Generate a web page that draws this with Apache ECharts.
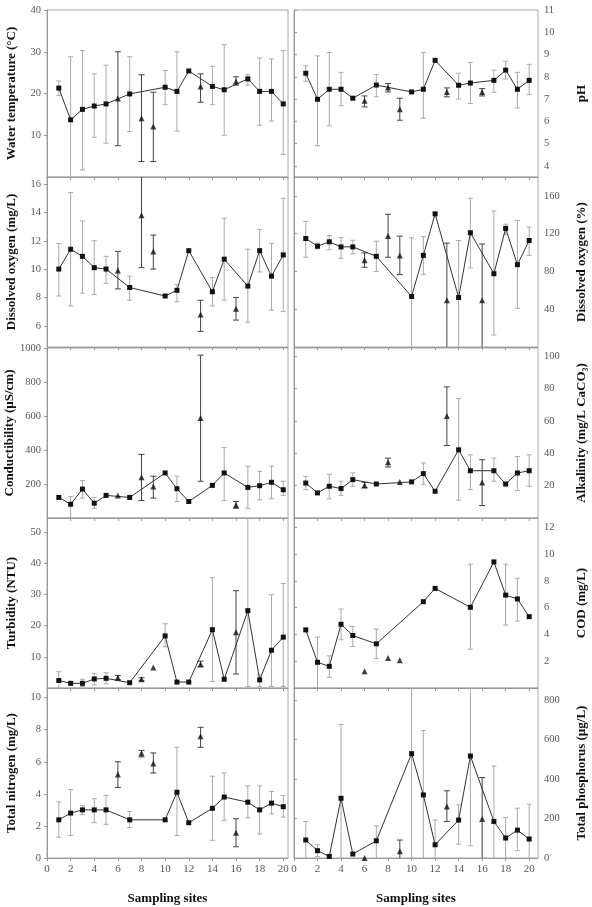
<!DOCTYPE html>
<html>
<head>
<meta charset="utf-8">
<script src="https://cdn.jsdelivr.net/npm/echarts@6/dist/echarts.min.js"></script>
<style>
  html, body { margin: 0; padding: 0; background: #fff; }
  #chart { width: 592px; height: 907px; }
</style>
</head>
<body>
<div id="chart"></div>
<script>
// sites joined by the line, and the sites drawn as triangles
var lineSites = [1, 2, 3, 4, 5, 7, 10, 11, 12, 14, 15, 17, 18, 19, 20];
var triSites = [6, 8, 9, 13, 16];
var siteTicks = [0, 2, 4, 6, 8, 10, 12, 14, 16, 18, 20];

// values per site 1..20 (null = no value / no error bar)
var tempMean = [21.3, 13.7, 16.2, 17.0, 17.5, 18.8, 19.9, 14.1, 12.1, 21.5, 20.5, 25.4, 21.7, 21.7, 20.9, 22.9, 23.5, 20.5, 20.5, 17.5];
var tempLow  = [19.5, 0, 1.7, 9.5, 8.1, 7.5, 10.9, 3.7, 3.7, 17.3, 11, null, 17.9, 17.3, 10, 22, 22, 12.4, 13.4, 5.4];
var tempHigh = [23, 28.8, 30.3, 24.7, 26.8, 30, 28.8, 24.5, 20.3, 25.5, 30, null, 24.7, 26.5, 31.7, 24, 24.5, 28.5, 28.3, 30.3];
var tempTicks = [10, 20, 30, 40];

var phMean = [8.16, 6.99, 7.44, 7.44, 7.04, 6.92, 7.63, 7.52, 6.54, 7.32, 7.44, 8.74, 7.32, 7.62, 7.72, 7.32, 7.84, 8.3, 7.44, 7.84];
var phLow  = [7.8, 4.9, 5.8, 6.7, null, 6.65, 7.1, 7.32, 6.05, null, 6.14, null, 7.1, 7.0, 6.8, 7.14, 7.3, 7.9, 6.6, 7.2];
var phHigh = [8.49, 8.94, 9.09, 8.2, null, 7.14, 8.1, 7.7, 7.04, null, 9.1, null, 7.5, 8.16, 8.64, 7.47, 8.3, 8.7, 8.2, 8.56];
var phTicks = [4, 5, 6, 7, 8, 9, 10, 11];

var doMean = [10.0, 11.4, 10.9, 10.1, 10.0, 9.9, 8.7, 13.8, 11.25, 8.1, 8.5, 11.3, 6.8, 8.4, 10.7, 7.2, 8.8, 11.3, 9.5, 11.0];
var doLow  = [8.1, 7.4, 8.3, 8.2, 9.0, 8.6, 7.8, 10.1, 10.0, null, 7.7, null, 5.6, 7.4, 7.8, 6.4, 6.25, 9.8, 7.1, 7.0];
var doHigh = [11.8, 15.4, 13.4, 12.0, 10.9, 11.25, 9.5, 16.6, 12.4, null, 8.9, null, 7.8, 9.4, 13.6, 8.0, 11.4, 12.8, 11.8, 15.0];
var doTicks = [6, 8, 10, 12, 14, 16];

var doPctMean = [114.9, 106.7, 111.4, 106, 106, 91.8, 96, 117.4, 97, 53.5, 97, 141, 49.6, 52.4, 121, 49.6, 77.6, 125.6, 87.2, 112.8];
var doPctLow  = [95, 104, 103, 94, 98.6, 84.4, 80, 95, 76.6, 0, 77, null, 0, 0, 83.7, 0, 12.7, 119, 41, 97];
var doPctHigh = [133, 110, 118, 116, 113, 99.6, 112, 140.5, 117.4, 115.6, 117, null, 110, 112.8, 157.5, 109, 144, 130, 134, 127];
var doPctTicks = [40, 80, 120, 160];

var condMean = [121, 81, 170, 87, 133, 133, 121, 240, 186, 265, 172, 97, 588, 192, 265, 77, 180, 190, 210, 166];
var condLow  = [null, 2, 117, 57, null, null, null, 103, 117, null, 97, null, 216, null, 103, 57, 57, 107, 113, 133];
var condHigh = [null, 127, 220, 121, null, null, null, 374, 246, null, 246, null, 958, null, 414, 97, 305, 275, 305, 216];
var condTicks = [200, 400, 600, 800, 1000];

var alkMean = [21.6, 15.5, 19.6, 18.2, 23.7, 20.2, 21, 34.5, 22.3, 22.3, 27.4, 16.5, 63, 42.1, 29.2, 22, 29.2, 21, 27.8, 29.2];
var alkLow  = [17.5, null, 11.8, 14, 19.6, 18.6, null, 31.5, null, null, 20.8, null, 44.8, 11, 17.5, 7.7, 22.7, null, 17, 19.6];
var alkHigh = [25.7, null, 27, 22.7, 27.8, 22, null, 37, null, null, 34, null, 81, 73.8, 39, 36, 37, null, 38, 39];
var alkTicks = [20, 40, 60, 80, 100];

var turbMean = [2.4, 1.5, 1.5, 2.9, 3.1, 3.3, 1.7, 2.8, 6.6, 16.7, 1.9, 1.9, 7.6, 18.7, 2.8, 17.9, 24.8, 2.6, 12.1, 16.3];
var turbLow  = [0, null, 0.5, 1.0, 1.3, 2.6, null, 2.3, null, 13.2, null, null, 6.8, 2.1, null, 4.5, 0.5, 0.5, 0.5, 0.5];
var turbHigh = [5.2, null, 2.8, 4.7, 4.9, 4.0, null, 3.3, null, 20.6, null, null, 8.6, 35.4, null, 31.2, 60, 4.2, 29.9, 33.5];
var turbTicks = [10, 20, 30, 40, 50];

var codMean = [4.34, 1.92, 1.62, 4.76, 3.92, 1.25, 3.3, 2.24, 2.07, null, 6.45, 7.44, null, null, 6.03, null, 9.42, 6.94, 6.65, 5.33];
var codLow  = [null, 0, 0.8, 3.6, 3.1, null, 2.2, null, null, null, null, null, null, null, 2.9, null, null, 4.7, 5.0, null];
var codHigh = [null, 3.8, 2.4, 5.9, 4.6, null, 4.4, null, null, null, null, null, null, null, 9.25, null, null, 9.25, 8.2, null];
var codTicks = [2, 4, 6, 8, 10, 12];

var tnMean = [2.38, 2.8, 3.0, 3.0, 3.0, 5.2, 2.38, 6.53, 5.9, 2.38, 4.1, 2.2, 7.59, 3.1, 3.8, 1.58, 3.48, 3.0, 3.42, 3.2];
var tnLow  = [1.3, 1.4, 2.7, 2.2, 2.1, 4.4, 1.9, 6.3, 5.3, null, 1.4, null, 6.9, 1.1, 2.35, 0.7, 2.5, 1.5, 2.75, 2.55];
var tnHigh = [3.5, 4.27, 3.27, 3.7, 3.9, 6.0, 2.9, 6.7, 6.55, null, 6.9, null, 8.15, 5.1, 5.3, 2.45, 4.5, 4.5, 4.15, 3.9];
var tnTicks = [0, 2, 4, 6, 8, 10];

var tpMean = [91, 37, 8, 302, 20, 0, 87, null, 34, 528, 319, 67, 260, 192, 516, 197, 185, 101, 141, 96];
var tpLow  = [0, 7, null, 0, null, null, 0, null, 0, 0, 0, 0, 185, 70, 62, 0, 0, 0, 37, 0];
var tpHigh = [185, 67, null, 676, null, null, 163, null, 91, 1000, 645, 192, 340, 269, 1000, 407, 465, 205, 252, 272];
var tpTicks = [0, 200, 400, 600, 800];

var chart = echarts.init(document.getElementById('chart'));

var serif = 'Liberation Serif';
var rowTop = [10, 177, 348, 518, 688];
var rowH = [167, 170, 170, 170, 170];

var panels = [
  { name: 'Water temperature (°C)', mean: tempMean, low: tempLow, high: tempHigh, min: 0, max: 40, ticks: tempTicks, col: 0, row: 0 },
  { name: 'pH', mean: phMean, low: phLow, high: phHigh, min: 3.5, max: 11, ticks: phTicks, col: 1, row: 0 },
  { name: 'Dissolved oxygen (mg/L)', mean: doMean, low: doLow, high: doHigh, min: 4.5, max: 16.5, ticks: doTicks, col: 0, row: 1 },
  { name: 'Dissolved oxygen (%)', mean: doPctMean, low: doPctLow, high: doPctHigh, min: 0, max: 180, ticks: doPctTicks, col: 1, row: 1 },
  { name: 'Conductibility (µS/cm)', mean: condMean, low: condLow, high: condHigh, min: 0, max: 1000, ticks: condTicks, col: 0, row: 2 },
  { name: 'Alkalinity (mg/L CaCO₃)', mean: alkMean, low: alkLow, high: alkHigh, min: 0, max: 105, ticks: alkTicks, col: 1, row: 2 },
  { name: 'Turbidity (NTU)', mean: turbMean, low: turbLow, high: turbHigh, min: 0, max: 54.5, ticks: turbTicks, col: 0, row: 3 },
  { name: 'COD (mg/L)', mean: codMean, low: codLow, high: codHigh, min: 0, max: 12.7, ticks: codTicks, col: 1, row: 3 },
  { name: 'Total nitrogen (mg/L)', mean: tnMean, low: tnLow, high: tnHigh, min: 0, max: 10.6, ticks: tnTicks, col: 0, row: 4 },
  { name: 'Total phosphorus (µg/L)', mean: tpMean, low: tpLow, high: tpHigh, min: 0, max: 860, ticks: tpTicks, col: 1, row: 4 }
];

// error bar drawn with the axis scales, clipped to the plot box
function errBar(color, capW) {
  return function (params, api) {
    var x = api.value(0);
    var pLo = api.coord([x, api.value(1)]);
    var pHi = api.coord([x, api.value(2)]);
    var cs = params.coordSys;
    var top = cs.y, bot = cs.y + cs.height;
    var yLo = Math.min(pLo[1], bot), yHi = Math.max(pHi[1], top);
    var st = { stroke: color, lineWidth: 1 };
    var kids = [{ type: 'line', shape: { x1: pLo[0], y1: yLo, x2: pLo[0], y2: yHi }, style: st }];
    if (pLo[1] < bot) kids.push({ type: 'line', shape: { x1: pLo[0] - capW, y1: yLo, x2: pLo[0] + capW, y2: yLo }, style: st });
    if (pHi[1] > top) kids.push({ type: 'line', shape: { x1: pHi[0] - capW, y1: yHi, x2: pHi[0] + capW, y2: yHi }, style: st });
    return { type: 'group', children: kids };
  };
}

function pick(sites, arr) {
  return sites.filter(function (s) { return arr[s - 1] != null; })
              .map(function (s) { return [s, arr[s - 1]]; });
}
function pickBars(sites, p) {
  return sites.filter(function (s) { return p.low[s - 1] != null && p.mean[s - 1] != null; })
              .map(function (s) { return [s, p.low[s - 1], p.high[s - 1]]; });
}
function plain(v) { return String(v); }

var grids = [], xAxes = [], yAxes = [], series = [];

panels.forEach(function (p, i) {
  var right = p.col === 1;
  var bottomRow = p.row === 4;
  grids.push({
    left: right ? 294 : 47,
    width: right ? 244 : 241,
    top: rowTop[p.row],
    height: rowH[p.row],
    show: true,
    borderColor: '#aaa',
    borderWidth: 1
  });
  xAxes.push({
    type: 'value', gridIndex: i, min: 0, max: right ? 20.75 : 20.4,
    name: bottomRow ? 'Sampling sites' : '',
    nameLocation: 'middle', nameGap: 34,
    nameTextStyle: { fontFamily: serif, fontWeight: 'bold', fontSize: 13, color: '#111' },
    axisLine: { lineStyle: { color: '#999' } },
    axisTick: { show: true, length: 3, customValues: siteTicks, lineStyle: { color: '#999' } },
    axisLabel: { show: bottomRow, customValues: siteTicks, formatter: plain, fontFamily: serif, fontSize: 11, color: '#555', margin: 6 },
    splitLine: { show: false }
  });
  yAxes.push({
    type: 'value', gridIndex: i, min: p.min, max: p.max,
    position: right ? 'right' : 'left',
    name: p.name, nameLocation: 'middle', nameRotate: 90,
    nameGap: right ? 37 : 29,
    nameTextStyle: { fontFamily: serif, fontWeight: 'bold', fontSize: 13, color: '#111' },
    axisLine: { show: true, lineStyle: { color: '#999' } },
    axisTick: { show: true, length: 3, customValues: p.ticks, lineStyle: { color: '#999' } },
    axisLabel: { customValues: p.ticks, formatter: plain, fontFamily: serif, fontSize: 10.5, color: '#555', margin: 6 },
    splitLine: { show: false }
  });

  series.push({
    type: 'custom', xAxisIndex: i, yAxisIndex: i, silent: true,
    renderItem: errBar('#aaa', 2.5),
    encode: { x: 0, y: [1, 2] },
    data: pickBars(lineSites, p), z: 1
  });
  series.push({
    type: 'custom', xAxisIndex: i, yAxisIndex: i, silent: true,
    renderItem: errBar('#444', 3),
    encode: { x: 0, y: [1, 2] },
    data: pickBars(triSites, p), z: 1
  });
  series.push({
    type: 'line', xAxisIndex: i, yAxisIndex: i, silent: true,
    data: pick(lineSites, p.mean),
    symbol: 'rect', symbolSize: 5,
    itemStyle: { color: '#111' },
    lineStyle: { color: '#333', width: 1 },
    z: 2
  });
  series.push({
    type: 'scatter', xAxisIndex: i, yAxisIndex: i, silent: true,
    data: pick(triSites, p.mean),
    symbol: 'triangle', symbolSize: 6,
    itemStyle: { color: '#111' },
    z: 3
  });
});

chart.setOption({
  animation: false,
  backgroundColor: '#fff',
  grid: grids,
  xAxis: xAxes,
  yAxis: yAxes,
  series: series
});
</script>
</body>
</html>
